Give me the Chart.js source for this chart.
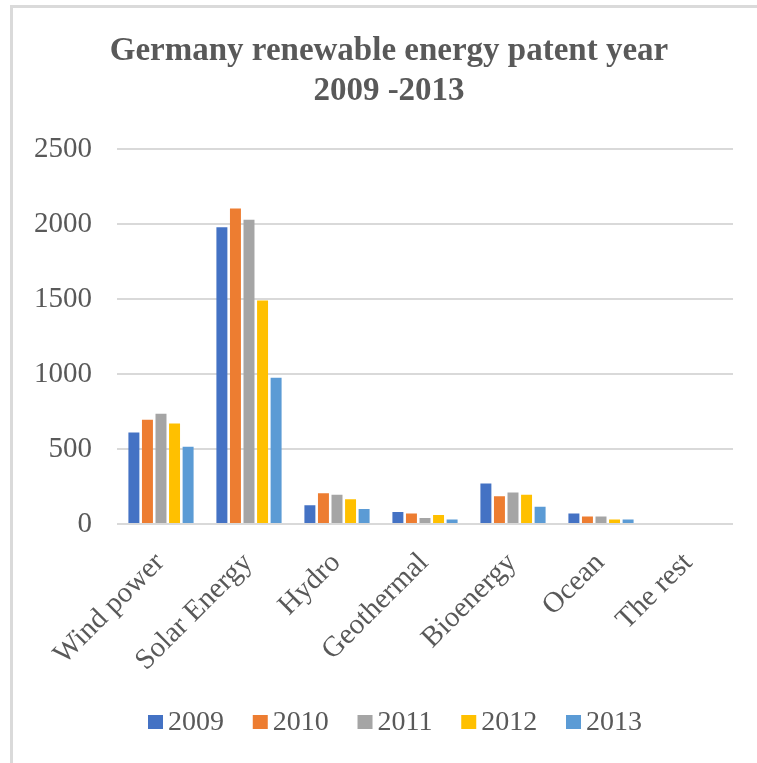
<!DOCTYPE html>
<html>
<head>
<meta charset="utf-8">
<script src="https://cdn.jsdelivr.net/npm/chart.js@4/dist/chart.umd.min.js"></script>
<style>
  html, body { margin: 0; padding: 0; background: #ffffff; }
  #wrap { position: relative; width: 757px; height: 763px; }
  canvas { display: block; }
</style>
</head>
<body>
<div id="wrap"><canvas id="chart" width="757" height="763"></canvas></div>
<script>
// Patent counts per technology, one array per year
const categories = ['Wind power', 'Solar Energy', 'Hydro', 'Geothermal', 'Bioenergy', 'Ocean', 'The rest'];
const years = ['2009', '2010', '2011', '2012', '2013'];
const values2009 = [610, 1980, 125, 80, 270, 70, 0];
const values2010 = [695, 2105, 205, 70, 185, 50, 0];
const values2011 = [735, 2030, 195, 40, 210, 50, 0];
const values2012 = [670, 1490, 165, 60, 195, 30, 0];
const values2013 = [515, 975, 100, 30, 115, 30, 0];
const yTickValues = [0, 500, 1000, 1500, 2000, 2500];
const titleLines = ['Germany renewable energy patent year', '2009 -2013'];

const seriesValues = [values2009, values2010, values2011, values2012, values2013];
const seriesColors = ['#4472C4', '#ED7D31', '#A5A5A5', '#FFC000', '#5B9BD5'];
const FONT = '"Liberation Serif", "Times New Roman", serif';
const TEXT = '#595959';
const GRID = '#d9d9d9';

// Light frame along the top and left edges
const framePlugin = {
  id: 'frame',
  beforeDraw(chart) {
    const ctx = chart.ctx;
    ctx.save();
    ctx.strokeStyle = '#dadada';
    ctx.lineWidth = 3;
    ctx.beginPath();
    ctx.moveTo(11.5, chart.height);
    ctx.lineTo(11.5, 6.5);
    ctx.lineTo(chart.width, 6.5);
    ctx.stroke();
    ctx.restore();
  }
};

// Legend row under the axis labels: square swatch followed by the year
const legendRowPlugin = {
  id: 'legendRow',
  afterDraw(chart) {
    const ctx = chart.ctx;
    const box = 15, boxH = 14, gap = 5;
    const startX = 148, endX = 642, centerY = 722;
    ctx.save();
    ctx.font = '28px ' + FONT;
    ctx.textBaseline = 'middle';
    ctx.textAlign = 'left';
    const items = chart.data.datasets.map(ds => ({
      label: ds.label, color: ds.backgroundColor, w: ctx.measureText(ds.label).width
    }));
    const used = items.reduce((s, it) => s + box + gap + it.w, 0);
    const spacing = (endX - startX - used) / (items.length - 1);
    let x = startX;
    items.forEach(it => {
      ctx.fillStyle = it.color;
      ctx.fillRect(x, centerY - boxH / 2, box, boxH);
      ctx.fillStyle = TEXT;
      ctx.fillText(it.label, x + box + gap, centerY + 1);
      x += box + gap + it.w + spacing;
    });
    ctx.restore();
  }
};

new Chart(document.getElementById('chart'), {
  type: 'bar',
  data: {
    labels: categories,
    datasets: years.map((y, i) => ({
      label: y,
      data: seriesValues[i],
      backgroundColor: seriesColors[i],
      borderWidth: 0,
      barPercentage: 0.81,
      categoryPercentage: 0.77
    }))
  },
  options: {
    responsive: false,
    devicePixelRatio: 1,
    animation: false,
    layout: { padding: { left: 24, right: 3, top: 0, bottom: 60 } },
    plugins: {
      legend: { display: false },
      tooltip: { enabled: false },
      title: {
        display: true,
        text: titleLines,
        color: TEXT,
        font: { family: FONT, size: 33, weight: 'bold', lineHeight: 1.2 },
        padding: { top: 32, bottom: 38 }
      }
    },
    scales: {
      x: {
        grid: { display: false, drawTicks: false },
        border: { display: false },
        ticks: {
          color: TEXT,
          font: { family: FONT, size: 29 },
          minRotation: 45,
          maxRotation: 45,
          autoSkip: false,
          padding: 22,
          labelOffset: -1
        },
        afterFit(scale) { scale.height = 179; }
      },
      y: {
        min: 0,
        max: 2500,
        grid: { color: GRID, lineWidth: 2, drawTicks: false },
        border: { display: false },
        ticks: {
          color: TEXT,
          font: { family: FONT, size: 29 },
          padding: 25,
          callback: v => String(v)
        },
        afterBuildTicks(scale) { scale.ticks = yTickValues.map(v => ({ value: v })); },
        afterFit(scale) { scale.width = 93; }
      },
      // empty strip on the right so the plot ends where the frame content does
      edge: {
        type: 'linear',
        position: 'right',
        display: true,
        grid: { display: false, drawTicks: false },
        border: { display: false },
        ticks: { display: false },
        afterFit(scale) { scale.width = 21; }
      }
    }
  },
  plugins: [framePlugin, legendRowPlugin]
});
</script>
</body>
</html>
